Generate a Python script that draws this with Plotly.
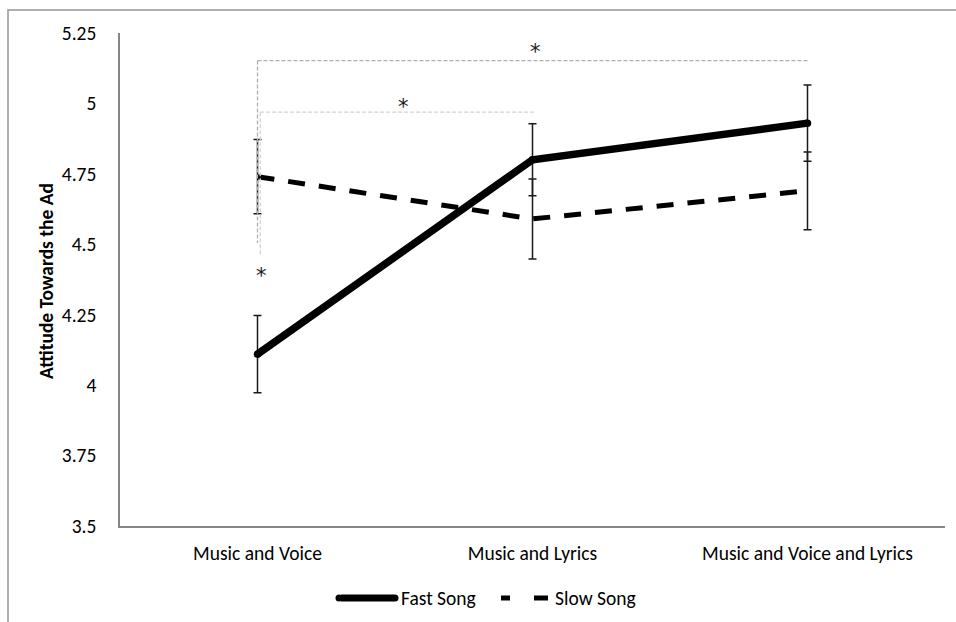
import plotly.graph_objects as go

# Data
conditions = ["Music and Voice", "Music and Lyrics", "Music and Voice and Lyrics"]
series_names = ["Fast Song", "Slow Song"]
fast_means = [4.11, 4.80, 4.93]
fast_errors = [0.137, 0.128, 0.135]
slow_means = [4.74, 4.59, 4.69]
slow_errors = [0.132, 0.142, 0.138]

y_tick_values = [3.5, 3.75, 4, 4.25, 4.5, 4.75, 5, 5.25]
y_tick_labels = ["3.5", "3.75", "4", "4.25", "4.5", "4.75", "5", "5.25"]

# Significance brackets: (x_left, x_right, y_top, y_bottom_of_left_leg, colour)
brackets = [
    (0.0, 2.0, 5.152, 4.505, "#b0b0b0"),
    (0.01, 1.01, 4.969, 4.458, "#d3d3d3"),
]
# Significance markers: (x, y)
star_positions = [(1.01, 5.197), (0.53, 5.003), (0.013, 4.40)]

FONT = "Carlito, Calibri, Lato, sans-serif"
STAR_FONT = "DejaVu Sans, sans-serif"
FS = 19.5
W, H = 956, 622
L, R, T, B = 120, 11, 33, 96
PW, PH = W - L - R, H - T - B


def px_x(p):
    return (p - L) / PW


def px_y(p):
    return (H - B - p) / PH


fig = go.Figure()

err_style = dict(type="data", thickness=1.5, width=4, color="#1a1a1a")

fig.add_trace(go.Scatter(
    x=conditions, y=slow_means, name=series_names[1], mode="lines",
    line=dict(color="black", width=5, dash="17px,14px"),
    error_y=dict(array=slow_errors, **err_style),
    showlegend=False,
))
fig.add_trace(go.Scatter(
    x=conditions, y=fast_means, name=series_names[0], mode="lines+markers",
    line=dict(color="black", width=7.5),
    marker=dict(color="black", size=7.5),
    error_y=dict(array=fast_errors, **err_style),
    showlegend=False,
))

shapes = []
for x0, x1, ytop, ybot, col in brackets:
    shapes.append(dict(type="line", xref="x", yref="y", x0=x0, x1=x1, y0=ytop, y1=ytop,
                       line=dict(color=col, width=1.3, dash="4px,2px")))
    shapes.append(dict(type="line", xref="x", yref="y", x0=x0, x1=x0, y0=ytop, y1=ybot,
                       line=dict(color=col, width=1.3, dash="4px,2px")))

# Outer chart frame
shapes.append(dict(type="rect", xref="paper", yref="paper",
                   x0=px_x(8), x1=px_x(1010), y0=px_y(700), y1=px_y(10),
                   line=dict(color="#979797", width=1.5), fillcolor="rgba(0,0,0,0)",
                   layer="below"))

# Legend samples
leg_y = px_y(598)
shapes.append(dict(type="line", xref="paper", yref="paper", x0=px_x(341), x1=px_x(394),
                   y0=leg_y, y1=leg_y, line=dict(color="black", width=7)))
for cx in (339, 395):
    shapes.append(dict(type="circle", xref="paper", yref="paper",
                       x0=px_x(cx - 3.5), x1=px_x(cx + 3.5),
                       y0=px_y(598 + 3.5), y1=px_y(598 - 3.5),
                       fillcolor="black", line=dict(width=0)))
for a, b in ((501, 510), (534, 548)):
    shapes.append(dict(type="line", xref="paper", yref="paper", x0=px_x(a), x1=px_x(b),
                       y0=leg_y, y1=leg_y, line=dict(color="black", width=5)))

annotations = []
for sx, sy in star_positions:
    annotations.append(dict(x=sx, y=sy, xref="x", yref="y", text="*", showarrow=False,
                            font=dict(family=STAR_FONT, size=21, color="#1a1a1a"),
                            xanchor="center", yanchor="middle", yshift=-4))

annotations.append(dict(x=px_x(399), y=leg_y, xref="paper", yref="paper", text=series_names[0],
                        showarrow=False, xanchor="left", yanchor="middle",
                        font=dict(family=FONT, size=FS, color="black")))
annotations.append(dict(x=px_x(553), y=leg_y, xref="paper", yref="paper", text=series_names[1],
                        showarrow=False, xanchor="left", yanchor="middle",
                        font=dict(family=FONT, size=FS, color="black")))

annotations.append(dict(x=px_x(46), y=px_y(281), xref="paper", yref="paper",
                        text="<b>Attitude Towards the Ad</b>", textangle=-90, showarrow=False,
                        xanchor="center", yanchor="middle",
                        font=dict(family=FONT, size=FS, color="black")))

fig.update_layout(
    width=W, height=H,
    margin=dict(l=L, r=R, t=T, b=B),
    paper_bgcolor="white", plot_bgcolor="white",
    shapes=shapes, annotations=annotations,
    font=dict(family=FONT, size=FS, color="black"),
)
fig.update_xaxes(
    type="category", range=[-0.5, 2.5],
    showgrid=False, zeroline=False, showline=True, linecolor="#868686", linewidth=1.5,
    ticks="", ticklabelstandoff=9, tickfont=dict(family=FONT, size=FS, color="black"),
)
fig.update_yaxes(
    range=[3.5, 5.25], tickvals=y_tick_values, ticktext=y_tick_labels,
    showgrid=False, zeroline=False, showline=True, linecolor="#868686", linewidth=1.5,
    ticks="", ticklabelstandoff=18, tickfont=dict(family=FONT, size=FS, color="black"),
)

fig.write_html("out.html")
